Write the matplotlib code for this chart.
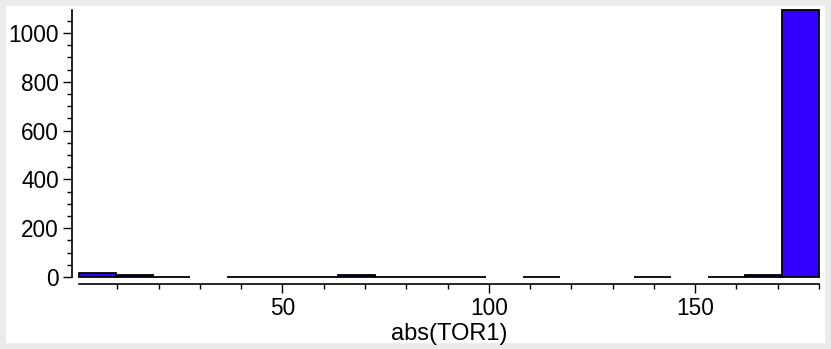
import numpy as np
import matplotlib
matplotlib.use("Agg")
import matplotlib.pyplot as plt
from matplotlib.patches import Rectangle
from matplotlib.ticker import MultipleLocator

# ---- data ----
bin_lo = 0.7
bin_hi = 180.0
counts = [16, 8, 1, 0, 1, 1, 1, 8, 1, 1, 1, 0, 1, 0, 0, 1, 0, 1, 10, 1094]
x_ticks = [50, 100, 150]
y_ticks = [0, 200, 400, 600, 800, 1000]
x_label = "abs(TOR1)"

W, H = 831, 349
fig = plt.figure(figsize=(W / 100, H / 100), dpi=100)
fig.patch.set_facecolor("#ebebeb")
fig.patches.append(Rectangle((6 / W, 6 / H), (825 - 6) / W, (343 - 6) / H,
                             transform=fig.transFigure, facecolor="white",
                             edgecolor="none", zorder=-10))

left, right = 79 / W, 819 / W
bottom, top = (H - 277) / H, (H - 10) / H
ax = fig.add_axes([left, bottom, right - left, top - bottom])
ax.set_facecolor("none")
ax.set_zorder(5)

edges = np.linspace(bin_lo, bin_hi, len(counts) + 1)
for i, c in enumerate(counts):
    if c > 0:
        ax.bar(edges[i], c, width=edges[i + 1] - edges[i], align="edge",
               color="#3300ff", edgecolor="black", linewidth=1.3,
               clip_on=False)

ax.set_xlim(bin_lo, bin_hi)
ax.set_ylim(0, max(counts))

for s in ["top", "right"]:
    ax.spines[s].set_visible(False)
for s in ["left", "bottom"]:
    ax.spines[s].set_position(("outward", 5.0))
    ax.spines[s].set_linewidth(1.2)

ax.set_xticks(x_ticks)
ax.set_yticks(y_ticks)
ax.xaxis.set_minor_locator(MultipleLocator(10))
ax.yaxis.set_minor_locator(MultipleLocator(50))
ax.tick_params(which="major", direction="out", length=6.5, width=1.0,
               labelsize=16.3, pad=3)
ax.tick_params(which="minor", direction="out", length=3.5, width=1.0)
for lab in ax.get_xticklabels() + ax.get_yticklabels():
    lab.set_fontfamily("Liberation Sans")
ax.set_xlabel(x_label, fontsize=17, fontfamily="Liberation Sans", labelpad=2)

fig.savefig("out.png", dpi=100, facecolor=fig.get_facecolor())
